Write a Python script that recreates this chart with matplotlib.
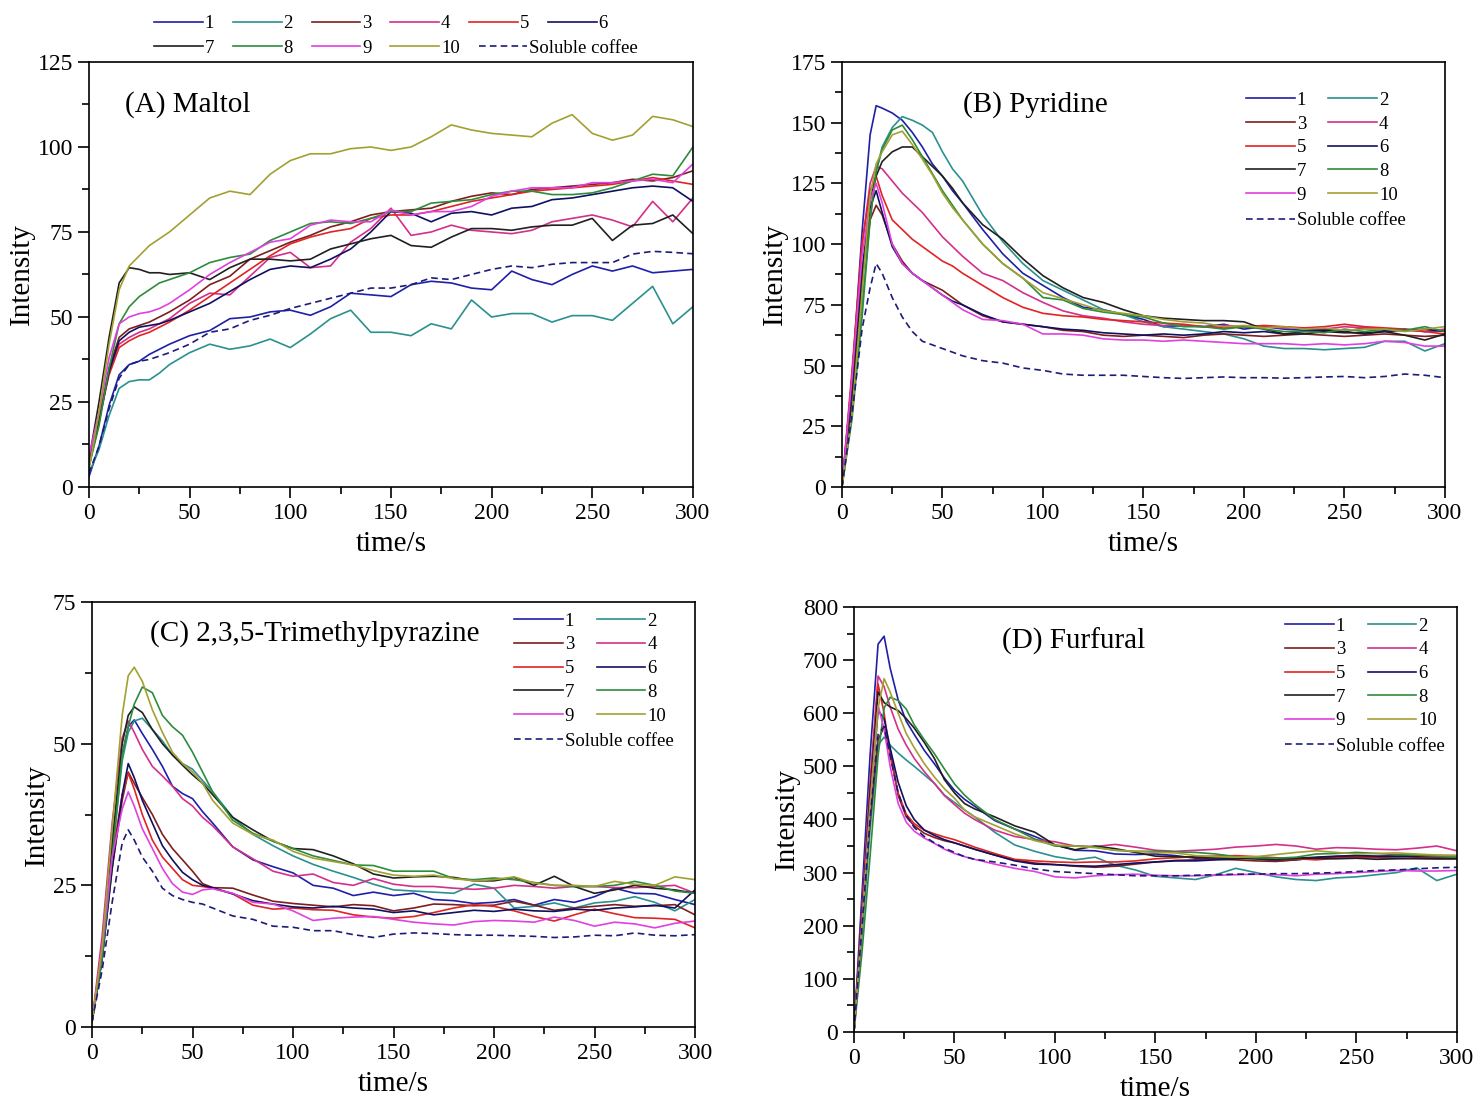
import matplotlib
matplotlib.use('Agg')
import matplotlib.pyplot as plt
from matplotlib.ticker import MultipleLocator, AutoMinorLocator

plt.rcParams['font.family'] = ['Liberation Serif', 'DejaVu Serif']
plt.rcParams['mathtext.fontset'] = 'stix'

labels = ['1', '2', '3', '4', '5', '6', '7', '8', '9', '10', 'Soluble coffee']
colors = ['#1f1fa8', '#2a9090', '#7d1f1f', '#d42f8a', '#e02424',
          '#101060', '#202020', '#2e8b3a', '#e040e0', '#a3a032', '#1c1c78']

# ---- (A) Maltol ----
t_a = [0, 5, 10, 15, 20, 25, 30, 35, 40, 50, 60, 70, 80, 90, 100, 110, 120, 130,
       140, 150, 160, 170, 180, 190, 200, 210, 220, 230, 240, 250, 260, 270, 280, 290, 300]
maltol = [
    [3, 12, 24, 33, 36, 37, 39, 40.5, 42, 44.5, 46, 49.5, 50, 51.5, 52, 50.5, 53, 57,
     56.5, 56, 59.5, 60.5, 60, 58.5, 58, 63.5, 61, 59.5, 62.5, 65, 63.5, 65, 63, 63.5, 64],
    [4, 11, 21, 29, 31, 31.5, 31.5, 33.5, 36, 39.5, 42, 40.5, 41.5, 43.5, 41, 45, 49.5, 52,
     45.5, 45.5, 44.5, 48, 46.5, 55, 50, 51, 51, 48.5, 50.4, 50.4, 49, 54, 59, 48, 53],
    [7, 20, 35, 44, 46.5, 47.5, 48.5, 50, 51.5, 55, 59.5, 62, 67, 69.5, 72, 74, 76.5, 78,
     80, 81, 81.5, 82, 84, 85.5, 86.5, 86, 87.5, 88, 88.5, 89, 89.5, 90.5, 90, 91, 93],
    [8, 20, 34, 42, 44, 45.5, 46.5, 48, 49.5, 54, 57, 56.5, 62, 67.5, 69, 64.5, 65, 72,
     76, 82, 74, 75, 77, 75.5, 75, 74.5, 75.5, 78, 79, 80, 78.5, 76.5, 84, 78, 85],
    [9, 20, 33, 41, 43, 44.5, 45.5, 47, 48.5, 52, 56, 60, 64, 68, 71.5, 73.5, 75, 76,
     79, 80, 80, 81, 82.5, 84, 85, 86, 87, 87.5, 88, 88.5, 89, 90, 91, 90, 89],
    [6, 19, 34, 43, 45.5, 47, 47.5, 48, 49, 51.5, 54, 57.5, 61, 64, 65, 64.5, 67, 70,
     75, 81, 80.5, 78, 80.5, 81, 80, 82, 82.5, 84.5, 85, 86, 87, 88, 88.5, 88, 84],
    [8, 25, 44, 60, 64.5, 64, 63, 63, 62.5, 63, 61, 64.5, 67, 67, 66.5, 67, 70, 71.5,
     73, 74, 71, 70.5, 73.5, 76, 76, 75.5, 76.5, 77, 77, 79, 72.5, 77, 77.5, 80, 74.5],
    [6, 18, 35, 48, 53, 56, 58, 60, 61, 63, 66, 67.5, 68.5, 72.5, 75, 77.5, 78, 77.5,
     79, 81, 81, 83.5, 84, 84.5, 86, 87, 87, 86, 86, 86.5, 88, 90, 92, 91.5, 100],
    [9, 22, 38, 48, 50, 51, 51.5, 52.5, 54, 58, 62.5, 66, 69, 72, 73, 77, 78.5, 78,
     78, 81.5, 80, 81, 81, 82.5, 85.5, 87, 88, 88, 88, 89.5, 89.5, 90, 90.5, 89.5, 95],
    [5, 22, 42, 58, 65, 68, 71, 73, 75, 80, 85, 87, 86, 92, 96, 98, 98, 99.5,
     100, 99, 100, 103, 106.5, 105, 104, 103.5, 103, 107, 109.5, 104, 102, 103.5, 109, 108, 106],
    [4, 12, 23, 32, 36, 37, 37.5, 38.5, 39.5, 42, 45.5, 46.5, 49, 50.5, 52.5, 54, 55.5, 57,
     58.5, 58.5, 59.5, 61.5, 61, 62.5, 64, 65, 64.5, 65.5, 66, 66, 66, 68.5, 69.3, 69, 68.6],
]

# ---- (B) Pyridine ----
t_b = [0, 5, 10, 14, 17, 20, 25, 30, 35, 40, 45, 50, 55, 60, 70, 80, 90, 100, 110,
       120, 130, 140, 150, 160, 170, 180, 190, 200, 210, 220, 230, 240, 250, 260, 270, 280, 290, 300]
pyridine = [
    [0, 45, 105, 145, 157, 156, 154, 151, 146, 140, 133, 128, 122, 117, 106, 96, 88, 83, 78,
     74, 73, 71, 69, 66, 66.5, 66, 67, 65, 66, 65, 64.5, 65, 64, 65.5, 64.5, 65, 64, 64.5],
    [0, 30, 75, 110, 130, 140, 148, 152.5, 151, 149, 146, 138, 131, 126, 112, 101, 92, 85, 81,
     77, 73, 71, 68, 66, 65, 64, 63, 61, 58, 57, 57, 56.5, 57, 57.5, 60, 60, 56, 59],
    [0, 40, 88, 110, 116, 112, 100, 93, 88, 85, 83, 81, 78, 75, 70.5, 68, 67, 66, 64.5,
     64, 62.5, 62, 62.5, 62, 61.5, 62.5, 63, 62.5, 62, 62.5, 63, 62.5, 62, 62.5, 63, 62.5, 62, 62.5],
    [0, 45, 100, 125, 132, 131, 126, 121, 117, 113, 108, 103, 99, 95, 88, 85, 80, 76, 72.5,
     70.5, 69.5, 68, 67, 66.5, 66.5, 66, 66.5, 66, 66, 65.5, 65.5, 65, 66, 65.5, 65, 64.5, 64, 65],
    [0, 48, 100, 122, 128, 120, 110, 106, 102, 99, 96, 93, 91, 88, 83, 78, 74, 71.5, 70.5,
     70, 69, 68.5, 68, 67.5, 67, 66, 65.5, 66, 66.5, 66, 65.5, 66, 67, 66, 65.5, 65, 64, 63],
    [0, 42, 90, 115, 122, 113, 99, 92, 88, 85, 82, 79, 76.5, 75, 71, 68, 67, 66, 65,
     64.5, 63.5, 63, 62.5, 63, 62.5, 63, 64, 63.5, 64, 63, 64, 64.5, 64, 63, 64, 64.5, 65, 64],
    [0, 35, 85, 118, 128, 134, 138, 140, 140, 136, 132, 128, 123, 117, 108, 102, 94, 87, 82,
     78, 76, 73, 70.5, 69.5, 69, 68.5, 68.5, 68, 65, 63, 63, 64, 63.5, 63.5, 64, 62.5, 60.5, 63],
    [0, 28, 70, 110, 130, 139, 147, 149, 143, 136, 129, 122, 116, 110, 100, 92, 86, 78, 77,
     73.5, 72, 71, 70, 67.5, 66, 66, 65, 66, 65, 64, 64, 63.5, 65, 64, 65, 64.5, 66, 64],
    [0, 45, 95, 118, 125, 117, 100, 92, 88, 85, 82, 79, 76, 73, 69, 68.5, 67, 63, 63,
     62.5, 61, 60.5, 60.5, 60, 60.5, 60, 59.5, 59, 59, 59, 58.5, 59, 58.5, 59, 60, 59.5, 58, 58],
    [0, 30, 80, 120, 133, 138, 145, 146.5, 141, 135, 128.5, 121, 115, 110, 100, 92, 86, 80, 77.5,
     75, 72.5, 71.5, 70.5, 69, 68, 67.5, 66, 66.5, 65.5, 66, 65, 65.5, 64.5, 65, 65, 64, 65, 66],
    [0, 30, 65, 82, 92, 88, 78, 70, 64, 60, 58.5, 57, 55.5, 54, 52, 51, 49, 48, 46.5,
     46, 46, 46, 45.5, 45, 44.7, 45, 45.3, 45, 45, 44.8, 45, 45.3, 45.5, 45, 45.5, 46.5, 46, 45],
]

# ---- (C) 2,3,5-Trimethylpyrazine ----
t_c = [0, 5, 10, 15, 18, 21, 25, 30, 35, 40, 45, 50, 55, 60, 70, 80, 90, 100, 110,
       120, 130, 140, 150, 160, 170, 180, 190, 200, 210, 220, 230, 240, 250, 260, 270, 280, 290, 300]
pyrazine = [
    [1, 14, 33, 48, 53, 54.2, 51.8, 49, 46, 42.5, 41.2, 40.3, 38, 36, 31.8, 29.5, 28.3, 27.2, 25,
     24.5, 23.2, 23.8, 23.2, 23.6, 22.5, 22.3, 21.8, 22, 22.5, 21.5, 22.5, 22, 23, 24.5, 23.6, 23.5, 22.5, 21.6],
    [1, 12, 30, 47, 52, 54, 54.5, 52.5, 50.5, 48, 46.5, 45.5, 43.5, 41.5, 37, 34, 32, 30.2, 28.7,
     27.5, 26.4, 25.2, 24.2, 24, 23.8, 23.6, 25.2, 24.5, 21, 21.3, 21.9, 21, 21.9, 22.2, 23, 22, 20.5, 22.5],
    [1, 12, 28, 40, 45, 43, 40.5, 37.5, 34, 31.5, 29.5, 27.5, 25.3, 24.6, 24.5, 23.3, 22.2, 21.8, 21.5,
     21.2, 21.6, 21.4, 20.5, 21, 21.7, 21.6, 21.4, 21.5, 22.2, 21.5, 20.6, 21, 21.3, 21.6, 21.3, 21.4, 21.6, 19.8],
    [1, 16, 36, 51, 54, 52, 49, 46, 44.3, 42.5, 40.3, 39, 37, 35.5, 31.8, 29.7, 27.5, 26.6, 27,
     25.5, 25, 26.2, 25.2, 24.8, 24.8, 24.5, 24.3, 24.5, 25, 24.8, 24.5, 24.8, 24.8, 24.6, 24.6, 24.8, 25, 23.6],
    [1, 13, 30, 41, 44.8, 42, 37.5, 33, 30, 28, 26, 25, 24.8, 24.5, 23.5, 21.5, 20.8, 21, 20.7,
     20.6, 19.8, 19.4, 19.2, 19.5, 20.2, 21, 21.6, 21.3, 20.5, 19.5, 18.7, 19.8, 20.8, 20, 19.3, 19.2, 19, 17.5],
    [1, 12, 28, 41, 46.5, 44, 40, 36, 32, 29.5, 27.3, 26, 25, 24.6, 23.5, 22.3, 21.7, 21.2, 21,
     21.3, 21, 20.8, 20.2, 20.5, 19.8, 20.2, 20.6, 20.4, 20.8, 20.5, 20.4, 20.8, 20.6, 21, 21.2, 21.5, 21, 24.2],
    [1, 13, 32, 50, 55, 56.5, 55.5, 52.5, 50, 48, 46.2, 44.5, 43, 41, 37, 34.8, 32.8, 31.5, 31.3,
     30.2, 28.8, 27, 26.3, 26.5, 26.6, 26.4, 25.8, 25.8, 26.4, 25, 26.6, 24.8, 23.6, 24.2, 25, 24.5, 24.2, 23.6],
    [1, 12, 30, 48, 53, 57, 60, 59, 55, 53, 51.5, 48.5, 45, 41.5, 36.5, 34.2, 32.8, 31.5, 30.2,
     29.4, 28.6, 28.5, 27.5, 27.5, 27.5, 26.2, 26, 26.3, 26, 25.5, 25, 24.8, 24.8, 25, 25.7, 25, 24, 23.6],
    [1, 14, 30, 38.5, 41.5, 39, 35, 31.5, 28, 25.3, 23.8, 23.4, 24.2, 24.4, 23.6, 22, 21.7, 20.5, 18.8,
     19.2, 19.4, 19.5, 19, 18.5, 18.2, 18, 18.6, 18.8, 18.7, 18.5, 19.4, 18.8, 17.8, 18.5, 18.2, 17.5, 18.3, 18.7],
    [1, 14, 35, 55, 62, 63.5, 61, 56, 52, 48.5, 46.5, 45, 43, 40, 36, 34, 33, 31, 29.8,
     29.2, 28.6, 27.6, 26.8, 26.6, 26.8, 26.2, 25.8, 26, 26.5, 25.4, 25, 25, 24.8, 25.7, 25.2, 25, 26.5, 26],
    [1, 10, 22, 32.5, 34.8, 33, 30, 27.5, 24.5, 23.2, 22.5, 22, 21.7, 21, 19.6, 19, 17.8, 17.6, 17,
     17, 16.3, 15.8, 16.4, 16.6, 16.5, 16.3, 16.2, 16.2, 16.1, 16, 15.8, 15.9, 16.2, 16.1, 16.6, 16.2, 16.1, 16.3],
]

# ---- (D) Furfural ----
t_d = [0, 4, 8, 12, 15, 18, 22, 26, 30, 35, 40, 45, 50, 55, 60, 70, 80, 90, 100, 110,
       120, 130, 140, 150, 160, 170, 180, 190, 200, 210, 220, 230, 240, 250, 260, 270, 280, 290, 300]
furfural = [
    [0, 260, 520, 730, 745, 685, 625, 585, 560, 530, 505, 478, 455, 438, 425, 398, 382, 368, 352, 342,
     341, 335, 334, 335, 332, 327, 326, 328, 326, 322, 324, 328, 330, 332, 330, 333, 330, 328, 329],
    [0, 180, 380, 540, 555, 540, 525, 512, 500, 484, 468, 446, 432, 418, 405, 376, 352, 340, 330, 324,
     329, 314, 305, 293, 290, 287, 296, 308, 300, 292, 287, 285, 290, 292, 296, 300, 309, 285, 297],
    [0, 200, 400, 550, 574, 530, 445, 405, 388, 374, 366, 360, 356, 350, 344, 333, 324, 318, 315, 312,
     310, 312, 316, 320, 323, 324, 325, 324, 322, 321, 324, 328, 329, 329, 328, 327, 326, 326, 326],
    [0, 230, 470, 670, 650, 612, 570, 540, 515, 490, 468, 445, 428, 412, 400, 380, 368, 362, 358, 350,
     349, 353, 348, 342, 340, 342, 344, 348, 350, 353, 350, 344, 347, 346, 344, 343, 346, 350, 341],
    [0, 230, 460, 655, 600, 520, 450, 410, 392, 380, 373, 367, 362, 355, 348, 336, 325, 322, 320, 319,
     320, 320, 322, 326, 328, 330, 331, 332, 330, 328, 326, 324, 327, 329, 330, 331, 329, 330, 329],
    [0, 220, 420, 605, 590, 535, 470, 426, 400, 380, 370, 362, 356, 350, 344, 333, 322, 316, 315, 313,
     312, 315, 318, 320, 322, 322, 324, 326, 328, 326, 327, 329, 331, 332, 331, 330, 331, 332, 332],
    [0, 220, 450, 640, 620, 612, 605, 590, 572, 545, 515, 475, 450, 430, 420, 405, 388, 376, 352, 343,
     350, 345, 338, 331, 330, 329, 328, 327, 326, 325, 327, 327, 326, 327, 325, 326, 327, 326, 326],
    [0, 150, 330, 520, 610, 630, 624, 608, 578, 550, 524, 495, 467, 446, 429, 400, 382, 363, 350, 350,
     348, 342, 340, 340, 339, 338, 335, 330, 328, 327, 329, 335, 336, 338, 336, 334, 333, 331, 329],
    [0, 210, 430, 615, 570, 500, 430, 395, 378, 365, 355, 344, 336, 330, 325, 316, 308, 302, 292, 290,
     294, 296, 297, 295, 294, 294, 295, 296, 297, 296, 294, 297, 298, 300, 302, 304, 303, 303, 304],
    [0, 200, 420, 610, 665, 640, 600, 562, 535, 505, 480, 458, 440, 418, 405, 389, 373, 360, 352, 350,
     347, 342, 340, 338, 337, 332, 330, 329, 330, 334, 338, 341, 338, 335, 336, 337, 335, 333, 332],
    [0, 200, 400, 560, 575, 520, 450, 408, 385, 368, 356, 346, 338, 330, 325, 320, 314, 307, 302, 300,
     298, 296, 294, 294, 294, 295, 296, 297, 297, 298, 298, 299, 300, 302, 304, 305, 307, 309, 310],
]


def draw_panel(ax, t, series, ymax, ystep, title, title_xy):
    for i, y in enumerate(series):
        if i == 10:
            ax.plot(t, y, color=colors[i], lw=1.2, ls=(0, (4, 2.5)), label=labels[i])
        else:
            ax.plot(t, y, color=colors[i], lw=1.2, label=labels[i])
    ax.set_xlim(0, 300)
    ax.set_ylim(0, ymax)
    ax.xaxis.set_major_locator(MultipleLocator(50))
    ax.xaxis.set_minor_locator(AutoMinorLocator(2))
    ax.yaxis.set_major_locator(MultipleLocator(ystep))
    ax.yaxis.set_minor_locator(AutoMinorLocator(2))
    ax.tick_params(which='both', direction='out', top=False, right=False,
                   labelsize=17, width=1.2)
    ax.tick_params(which='major', length=8)
    ax.tick_params(which='minor', length=5)
    for s in ax.spines.values():
        s.set_linewidth(1.2)
    ax.set_xlabel('time/s', fontsize=21, labelpad=5)
    ax.set_ylabel('Intensity', fontsize=21, labelpad=2)
    ax.text(title_xy[0], title_xy[1], title, transform=ax.transAxes,
            fontsize=21, ha='left', va='center')


def inner_legend(ax, x0, y0):
    handles, labs = ax.get_legend_handles_labels()
    # rows of two: 1 2 / 3 4 / ... / 9 10
    order = [0, 2, 4, 6, 8, 1, 3, 5, 7, 9]
    leg1 = ax.legend([handles[k] for k in order], [labs[k] for k in order],
                     ncol=2, loc='upper left', bbox_to_anchor=(x0, y0),
                     frameon=False, fontsize=13.5, handlelength=2.6,
                     handletextpad=0.1, columnspacing=1.2, labelspacing=0.35,
                     borderaxespad=0, borderpad=0)
    ax.add_artist(leg1)
    ax.legend([handles[10]], [labs[10]], loc='upper left',
              bbox_to_anchor=(x0, y0 - 0.283), frameon=False, fontsize=13.5,
              handlelength=2.6, handletextpad=0.1, borderaxespad=0, borderpad=0)


fig = plt.figure(figsize=(14.8, 10.99), dpi=100)
ax_a = fig.add_axes([0.0601, 0.5569, 0.4081, 0.3867])
ax_b = fig.add_axes([0.5689, 0.5569, 0.4074, 0.3867])
ax_c = fig.add_axes([0.0622, 0.0655, 0.4074, 0.3867])
ax_d = fig.add_axes([0.5770, 0.0610, 0.4074, 0.3867])

draw_panel(ax_a, t_a, maltol, 125, 25, '(A) Maltol', (0.06, 0.90))
draw_panel(ax_b, t_b, pyridine, 175, 25, '(B) Pyridine', (0.20, 0.90))
draw_panel(ax_c, t_c, pyrazine, 75, 25, '(C) 2,3,5-Trimethylpyrazine', (0.096, 0.925))
draw_panel(ax_d, t_d, furfural, 800, 100, '(D) Furfural', (0.245, 0.918))

# legend of panel A sits above the axes in two rows
h, l = ax_a.get_legend_handles_labels()
top_row = ax_a.legend(h[:6], l[:6], ncol=6, loc='upper left',
                      bbox_to_anchor=(0.108, 1.11), frameon=False, fontsize=13.5,
                      handlelength=2.6, handletextpad=0.1, columnspacing=1.0,
                      borderaxespad=0, borderpad=0)
ax_a.add_artist(top_row)
ax_a.legend(h[6:], l[6:], ncol=5, loc='upper left',
            bbox_to_anchor=(0.108, 1.052), frameon=False, fontsize=13.5,
            handlelength=2.6, handletextpad=0.1, columnspacing=1.0,
            borderaxespad=0, borderpad=0)

inner_legend(ax_b, 0.67, 0.93)
inner_legend(ax_c, 0.70, 0.975)
inner_legend(ax_d, 0.715, 0.975)

fig.savefig('out.png', dpi=100)
